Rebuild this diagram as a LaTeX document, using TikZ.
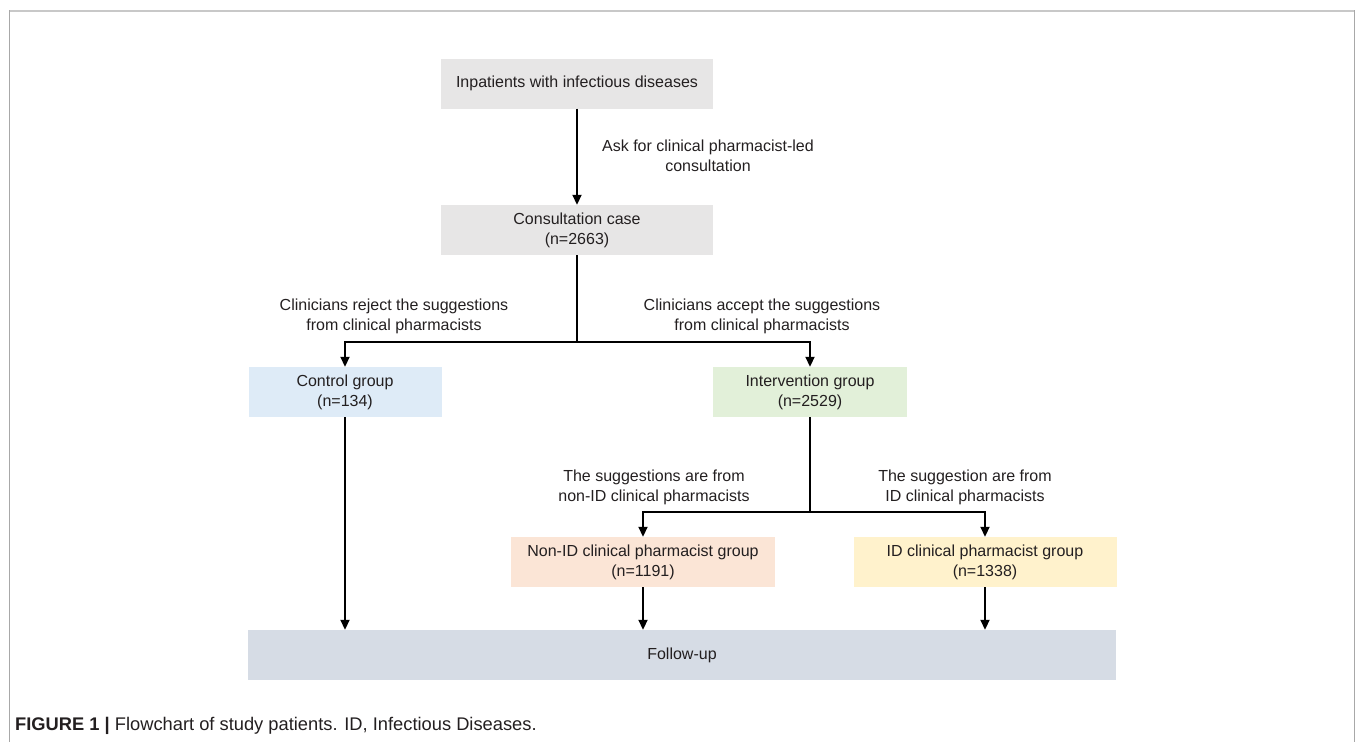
\documentclass[tikz,border=0pt]{standalone}
\usepackage{fontspec}
\setmainfont{Liberation Sans}
\usetikzlibrary{arrows.meta}
\definecolor{gbox}{HTML}{E7E6E6}
\definecolor{cblue}{HTML}{DEEBF7}
\definecolor{cgreen}{HTML}{E2F0D9}
\definecolor{cpeach}{HTML}{FBE5D6}
\definecolor{cyellow}{HTML}{FFF2CC}
\definecolor{cfu}{HTML}{D6DCE5}
\definecolor{frametop}{HTML}{C8C8C8}
\definecolor{frameside}{HTML}{A8A8A8}
\definecolor{txt}{HTML}{231F20}
\begin{document}
\begin{tikzpicture}[x=1pt,y=-1pt,
  font=\fontsize{16}{20}\selectfont, text=txt,
  box/.style={minimum height=50pt, inner sep=0pt, align=center},
  arr/.style={-{Triangle[length=10pt,width=9pt]}, line width=1.8pt},
  ln/.style={line width=1.8pt},
  lbl/.style={align=center, inner sep=0pt}]
\useasboundingbox (0,0) rectangle (1355,742);
\draw[frametop, line width=2pt] (9,11) -- (1355,11);
\draw[frameside, line width=1pt] (9,10) -- (9,742);
\draw[frameside, line width=1pt] (1354,10) -- (1354,742);

\node[box, fill=gbox, minimum width=272pt] (inp) at (577,83.5) {Inpatients with infectious diseases};
\node[box, fill=gbox, minimum width=272pt] (cons) at (577,230) {Consultation case\\(n=2663)};
\node[box, fill=cblue, minimum width=193pt] (ctrl) at (345,392) {Control group\\(n=134)};
\node[box, fill=cgreen, minimum width=194pt] (int) at (810,392) {Intervention group\\(n=2529)};
\node[box, fill=cpeach, minimum width=264pt] (non) at (643,562) {Non-ID clinical pharmacist group\\(n=1191)};
\node[box, fill=cyellow, minimum width=263pt] (idg) at (985,562) {ID clinical pharmacist group\\(n=1338)};
\node[box, fill=cfu, minimum width=868pt] (fu) at (682,655) {Follow-up};

\node[lbl] (l1) at (708,156) {Ask for clinical pharmacist-led\\consultation};
\node[lbl] (l2) at (394,316) {Clinicians reject the suggestions\\from clinical pharmacists};
\node[lbl] (l3) at (762,316) {Clinicians accept the suggestions\\from clinical pharmacists};
\node[lbl] (l4) at (654,487) {The suggestions are from\\non-ID clinical pharmacists};
\node[lbl] (l5) at (965,487) {The suggestion are from\\ID clinical pharmacists};

\coordinate (j1) at (577,342);
\coordinate (j2) at (810,512);
\draw[arr] (inp) -- (cons);
\draw[ln] (cons) -- (j1);
\draw[arr] (j1) -| (ctrl.north);
\draw[arr] (j1) -| (int.north);
\draw[ln] (int) -- (j2);
\draw[arr] (j2) -| (non.north);
\draw[arr] (j2) -| (idg.north);
\draw[arr] (ctrl) -- (ctrl.south |- fu.north);
\draw[arr] (non) -- (non.south |- fu.north);
\draw[arr] (idg) -- (idg.south |- fu.north);

\node[anchor=west, inner sep=0pt, font=\fontsize{18.3}{20}\selectfont] (cap) at (15,726)
  {\textbf{FIGURE 1} \textbf{|} Flowchart of study patients. ID, Infectious Diseases.};
\end{tikzpicture}
\end{document}
